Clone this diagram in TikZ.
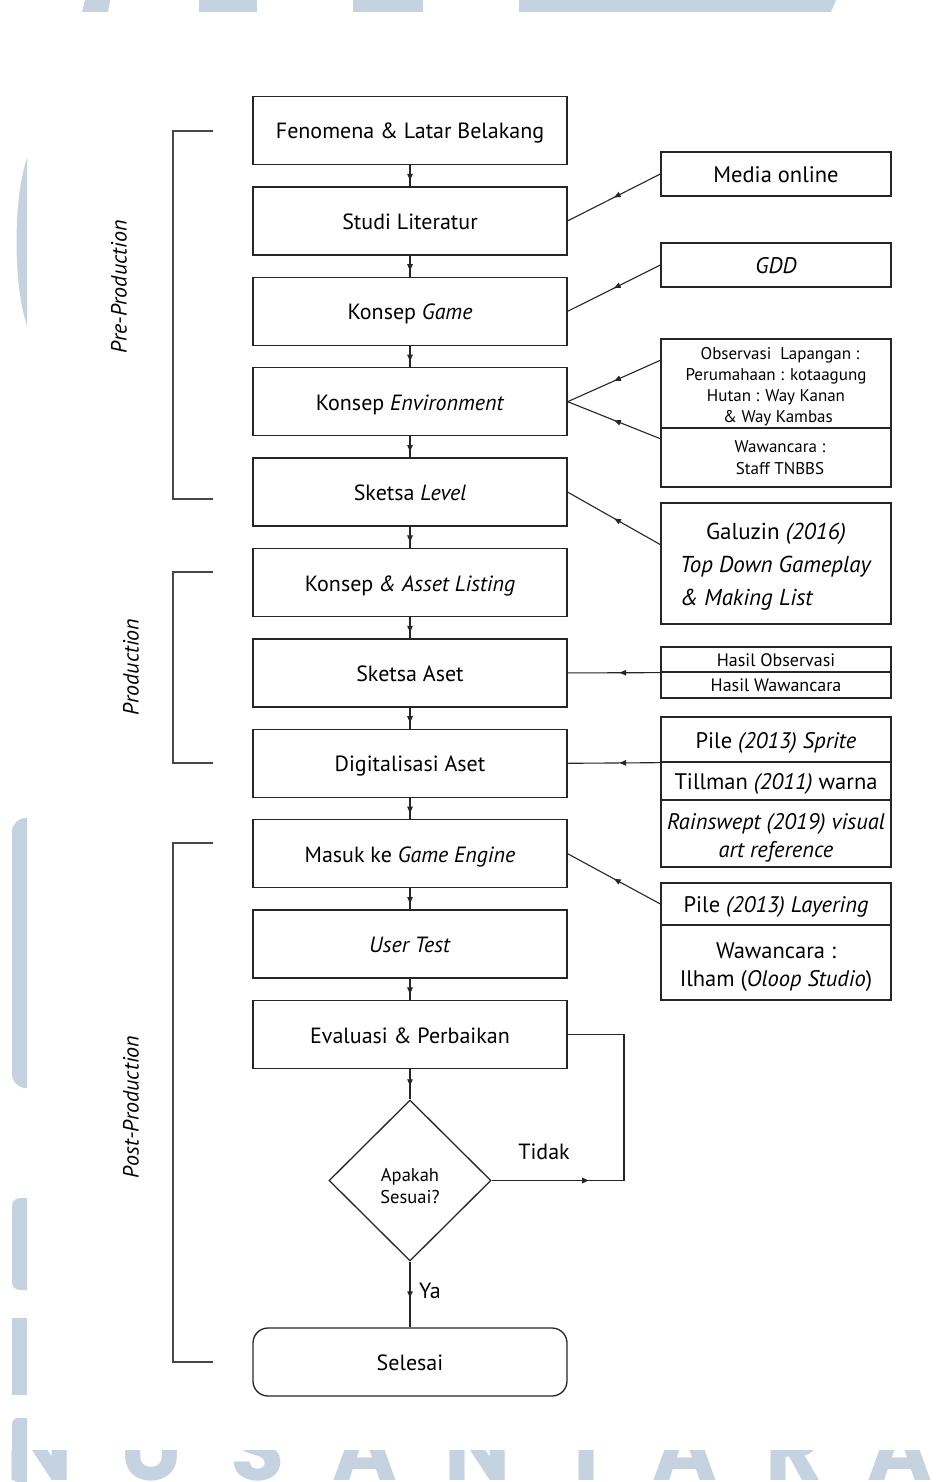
\documentclass[tikz,border=0pt]{standalone}
\usepackage{fontspec}
\setmainfont{PT Sans}
\newfontfamily\wmfont{Poppins}
\usetikzlibrary{arrows.meta,decorations.markings,shapes.geometric}
\definecolor{ink}{HTML}{262626}
\definecolor{wm}{HTML}{C5D3E0}
\tikzset{
  box/.style={draw=ink, line width=1.3pt, minimum width=314pt, minimum height=68pt,
    inner sep=0pt, align=center, font=\fontsize{22}{26}\selectfont,
    text height=17pt, text depth=0pt},
  rbox/.style={draw=ink, line width=1.3pt, minimum width=230pt, inner sep=0pt,
    align=center, font=\fontsize{22.5}{28}\selectfont},
  oneline/.style={text height=17pt, text depth=0pt},
  conn/.style={draw=ink, line width=1.1pt},
  midarr/.style={postaction={decorate}, decoration={markings,
    mark=at position #1 with {\arrow{Triangle[length=6.5pt,width=5.5pt]}}}},
  bracketline/.style={draw=ink!85, line width=1.4pt},
  phase/.style={rotate=90, font=\fontsize{22}{24}\selectfont\itshape, inner sep=0pt},
  lbl/.style={font=\fontsize{22}{26}\selectfont, inner sep=0pt},
  wmletter/.style={text=wm, font=\wmfont\bfseries\fontsize{88}{88}\selectfont, inner sep=0pt, anchor=base}
}
\begin{document}
\begin{tikzpicture}[x=1pt,y=-1pt]
\useasboundingbox (0,0) rectangle (947,1482);
\fill[white] (0,0) rectangle (947,1482);

% ---------- watermark ----------
\begin{scope}
  \clip (0,1450) rectangle (947,1482);
  \node[wmletter] (wN1) at (40,1480) {N};
  \node[wmletter] (wU) at (152,1480) {U};
  \node[wmletter] (wS) at (258,1480) {S};
  \node[wmletter] (wA1) at (365,1480) {A};
  \node[wmletter] (wN2) at (478,1480) {N};
  \node[wmletter] (wT) at (586,1480) {T};
  \node[wmletter] (wA2) at (685,1480) {A};
  \node[wmletter] (wR) at (794,1480) {R};
  \node[wmletter] (wA3) at (900,1480) {A};
\end{scope}
\begin{scope}
  \clip (0,0) rectangle (27,1482);
  \fill[wm] (27,158) .. controls (13,200) and (13,284) .. (27,326) -- cycle;
  \fill[wm, rounded corners=14pt] (12,818) rectangle (45,1088);
  \fill[wm, rounded corners=8pt] (12,1198) rectangle (45,1290);
  \fill[wm] (12,1318) rectangle (27,1395);
  \fill[wm, rounded corners=6pt] (12,1418) rectangle (45,1482);
\end{scope}
\fill[wm] (85,0) -- (110,0) -- (108,12) -- (82,12) -- cycle;
\fill[wm] (199,0) rectangle (257,12);
\fill[wm] (353,0) rectangle (423,12);
\fill[wm] (519,0) -- (836,0) -- (831,12) -- (519,12) -- cycle;

% ---------- phase brackets ----------
\draw[bracketline] (213,131) -- (173,131) -- (173,499) -- (213,499);
\draw[bracketline] (213,572) -- (173,572) -- (173,763) -- (213,763);
\draw[bracketline] (213,843) -- (173,843) -- (173,1362) -- (213,1362);
\node[phase] (lpre) at (119,287) {Pre-Production};
\node[phase] (lprod) at (131,667) {Production};
\node[phase] (lpost) at (131,1107) {Post-Production};

% ---------- main column ----------
\node[box] (b1) at (410,130.5) {Fenomena \& Latar Belakang};
\node[box] (b2) at (410,220.9) {Studi Literatur};
\node[box] (b3) at (410,311.3) {Konsep \textit{Game}};
\node[box] (b4) at (410,401.7) {Konsep \textit{Environment}};
\node[box] (b5) at (410,492.1) {Sketsa \textit{Level}};
\node[box] (b6) at (410,582.5) {Konsep \textit{\& Asset Listing}};
\node[box] (b7) at (410,672.9) {Sketsa Aset};
\node[box] (b8) at (410,763.3) {Digitalisasi Aset};
\node[box] (b9) at (410,853.7) {Masuk ke \textit{Game Engine}};
\node[box] (b10) at (410,944.1) {\textit{User Test}};
\node[box] (b11) at (410,1034.5) {Evaluasi \& Perbaikan};
\node[draw=ink, line width=1.3pt, diamond, minimum width=162pt, minimum height=161pt,
      inner sep=0pt, align=center, font=\fontsize{18.5}{22}\selectfont] (dia) at (410,1180.5)
      {\rule{0pt}{25pt}Apakah\\Sesuai?};
\node[box, rounded corners=15pt] (end) at (410,1362) {Selesai};

% ---------- right column ----------
\node[rbox, oneline, minimum height=44pt] (media) at (776,174) {Media online};
\node[rbox, oneline, minimum height=44pt] (gdd) at (776,265) {\textit{GDD}};
\node[rbox, minimum height=89pt, font=\fontsize{17}{20.7}\selectfont] (obs) at (776,383.5)
  {\rule{0pt}{18.5pt}\hspace*{8pt}Observasi\ \ Lapangan :\\Perumahaan : kotaagung\\Hutan : Way Kanan\\\hspace*{4pt}\& Way Kambas};
\node[rbox, minimum height=59pt, font=\fontsize{17}{22}\selectfont] (waw1) at (776,457.5)
  {\hspace*{8pt}Wawancara :\\\hspace*{8pt}Staff TNBBS};
\node[rbox, minimum height=121pt, font=\fontsize{23}{33}\selectfont] (galuzin) at (776,563.5)
  {\rule{0pt}{23pt}Galuzin \textit{(2016)}\\\textit{Top Down Gameplay}\\\textit{\& Making List}\hspace*{58pt}};
\node[rbox, minimum height=25pt, font=\fontsize{18}{19}\selectfont, text height=13.5pt, text depth=0pt] (hobs) at (776,659.5) {Hasil Observasi};
\node[rbox, minimum height=26pt, font=\fontsize{18}{19}\selectfont, text height=13.5pt, text depth=0pt] (hwaw) at (776,685) {Hasil Wawancara};
\node[rbox, oneline, minimum height=45pt] (psprite) at (776,739.5) {Pile \textit{(2013) Sprite}};
\node[rbox, oneline, minimum height=38pt] (till) at (776,781) {Tillman \textit{(2011)} warna};
\node[rbox, minimum height=67pt] (rain) at (776,833.5) {\rule{0pt}{24pt}\textit{Rainswept (2019) visual}\\\textit{art reference}};
\node[rbox, oneline, minimum height=42pt] (play) at (776,904) {Pile \textit{(2013) Layering}};
\node[rbox, minimum height=75pt] (ilham) at (776,962.5) {\rule{0pt}{24pt}Wawancara :\\Ilham (\textit{Oloop Studio})};

% ---------- connectors ----------
\foreach \a/\b in {b1/b2,b2/b3,b3/b4,b4/b5,b5/b6,b6/b7,b7/b8,b8/b9,b9/b10,b10/b11}
  \draw[conn, midarr=0.72] (\a.south) -- (\b.north);
\draw[conn, midarr=0.55] (b11.south) -- (dia.north);
\draw[conn, midarr=0.55] (dia.south) -- (end.north);
\node[lbl, anchor=west] (ya) at (419,1291) {Ya};

\coordinate (obsin) at (661,360);
\coordinate (wawin) at (661,439);
\coordinate (galin) at (661,545);
\draw[conn, midarr=0.5] (media.west) -- (b2.east);
\draw[conn, midarr=0.5] (gdd.west) -- (b3.east);
\draw[conn, midarr=0.5] (obsin) -- (b4.east);
\draw[conn, midarr=0.5] (wawin) -- (b4.east);
\draw[conn, midarr=0.5] (galin) -- (b5.east);
\draw[conn, midarr=0.44] (hobs.south west) -- (b7.east);
\draw[conn, midarr=0.44] (psprite.south west) -- (b8.east);
\draw[conn, midarr=0.5] (play.west) -- (b9.east);

\coordinate (loopA) at (624,1180.5);
\coordinate (loopB) at (624,1034.5);
\draw[conn, midarr=0.29] (dia.east) -- (loopA) -- (loopB) -- (b11.east);
\node[lbl] (tidak) at (544,1152) {Tidak};
\end{tikzpicture}
\end{document}
